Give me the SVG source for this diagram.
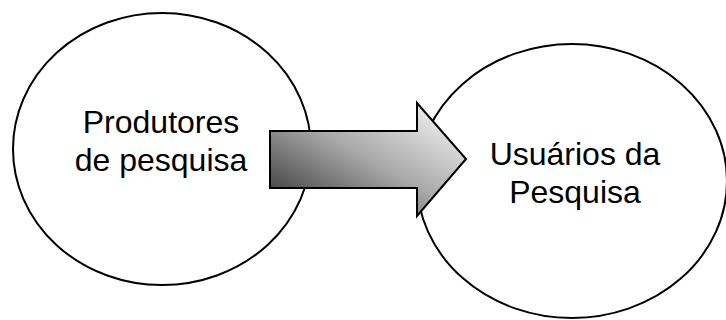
<svg xmlns="http://www.w3.org/2000/svg" width="726" height="320" viewBox="0 0 726 320">
  <defs>
    <linearGradient id="arrowGrad" x1="0" y1="1" x2="1" y2="0">
      <stop offset="0" stop-color="#2a2a2a"/>
      <stop offset="0.5" stop-color="#a8a8a8"/>
      <stop offset="1" stop-color="#ffffff"/>
    </linearGradient>
  </defs>
  <style>
    .node { fill: #ffffff; stroke: #000000; stroke-width: 2; }
    .label { font-family: "Liberation Sans", Arial, sans-serif; font-size: 32px; fill: #000000; text-anchor: middle; }
    .arrow { fill: url(#arrowGrad); stroke: #000000; stroke-width: 2; stroke-linejoin: miter; }
  </style>
  <rect width="726" height="320" fill="#ffffff"/>
  <g id="produtores">
    <ellipse class="node" cx="162" cy="149" rx="149" ry="136"/>
    <text class="label" x="161" y="133">Produtores</text>
    <text class="label" x="161" y="171">de pesquisa</text>
  </g>
  <g id="usuarios">
    <ellipse class="node" cx="572" cy="181" rx="155" ry="137"/>
    <text class="label" x="575" y="165">Usuários da</text>
    <text class="label" x="575" y="203">Pesquisa</text>
  </g>
  <g id="connectors">
    <path class="arrow" d="M270,131 L417,131 L417,103 L466,159 L417,216 L417,188 L270,188 Z"/>
  </g>
</svg>
